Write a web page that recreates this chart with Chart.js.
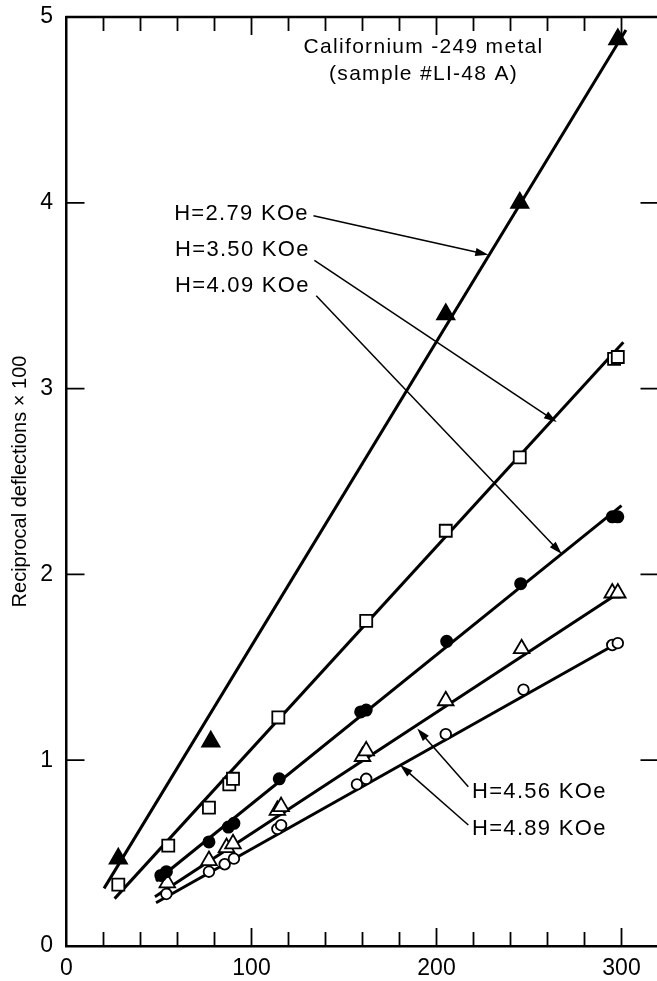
<!DOCTYPE html>
<html>
<head>
<meta charset="utf-8">
<script src="https://cdn.jsdelivr.net/npm/chart.js@4.4.1/dist/chart.umd.min.js"></script>
<style>
  html, body { margin: 0; padding: 0; background: #fff; overflow: hidden; }
  #wrap { position: relative; width: 672px; height: 981px; }
</style>
</head>
<body>
<div id="wrap"><canvas id="chart"></canvas></div>
<script>
// field strengths (one series each)
const fields = ['H=2.79 KOe', 'H=3.50 KOe', 'H=4.09 KOe', 'H=4.56 KOe', 'H=4.89 KOe'];

// temperature (x) and reciprocal deflection x100 (y)
const t279 = [28, 78, 205, 245, 298];
const r279 = [0.47, 1.10, 3.40, 4.00, 4.88];

const t350 = [28, 55, 77, 88, 90, 114.5, 162, 205, 245, 296, 298];
const r350 = [0.33, 0.54, 0.745, 0.87, 0.90, 1.23, 1.75, 2.235, 2.63, 3.16, 3.17];

const t409 = [51, 54, 77, 87.5, 90.5, 115, 159, 162, 205.5, 245.5, 295, 298];
const r409 = [0.38, 0.40, 0.56, 0.64, 0.66, 0.90, 1.26, 1.27, 1.64, 1.95, 2.31, 2.31];

const t456 = [54.5, 77, 86.5, 90, 114, 116, 160, 162, 205, 246, 295, 298];
const r456 = [0.34, 0.46, 0.53, 0.55, 0.73, 0.75, 1.02, 1.05, 1.32, 1.60, 1.90, 1.90];

const t489 = [54, 77, 85.5, 90.5, 114, 116, 157, 162, 205, 247, 295, 298];
const r489 = [0.28, 0.40, 0.44, 0.47, 0.63, 0.65, 0.87, 0.90, 1.14, 1.38, 1.62, 1.63];

// drawn straight lines, start and end
const fitT279 = [20.3, 302.4], fitR279 = [0.31, 4.93];
const fitT350 = [26, 301], fitR350 = [0.255, 3.25];
const fitT409 = [48.4, 300], fitR409 = [0.35, 2.37];
const fitT456 = [47.8, 297], fitR456 = [0.265, 1.89];
const fitT489 = [48.4, 296], fitR489 = [0.233, 1.62];

const xTickLabels = [0, 100, 200, 300];
const yTickLabels = [0, 1, 2, 3, 4, 5];

const pts = (xs, ys) => xs.map((x, i) => ({ x: x, y: ys[i] }));

const FONT = '"Liberation Sans", Arial, sans-serif';

function markers(label, xs, ys, style, fill, radius) {
  return {
    type: 'scatter', label: label, data: pts(xs, ys), order: 0,
    pointStyle: style, pointRadius: radius, pointHoverRadius: radius,
    pointBackgroundColor: fill, pointBorderColor: '#000', pointBorderWidth: 1.8
  };
}
function fitLine(xs, ys) {
  return {
    type: 'line', data: pts(xs, ys), order: 1,
    borderColor: '#000', borderWidth: 3, pointRadius: 0, fill: false
  };
}

// labels and arrows in data units
const notes = [
  { text: 'Californium -249 metal', x: 193, y: 4.84, align: 'center', size: 21 },
  { text: '(sample #LI-48 A)', x: 193, y: 4.69, align: 'center', size: 21 },
  { text: fields[0], x: 131, y: 3.94, align: 'right', size: 22 },
  { text: fields[1], x: 131.5, y: 3.745, align: 'right', size: 22 },
  { text: fields[2], x: 131.5, y: 3.55, align: 'right', size: 22 },
  { text: fields[3], x: 219.2, y: 0.83, align: 'left', size: 22 },
  { text: fields[4], x: 219.2, y: 0.63, align: 'left', size: 22 }
];
const arrows = [
  [133.5, 3.93, 228, 3.72],
  [134, 3.69, 265, 2.82],
  [135, 3.50, 267.7, 2.11],
  [217.2, 0.857, 189.6, 1.17],
  [217.2, 0.651, 180.3, 0.974]
];

const decor = {
  id: 'decor',
  afterDatasetsDraw(chart) {
    const { ctx, chartArea: a, scales: { x, y } } = chart;
    ctx.save();
    ctx.strokeStyle = '#000';
    ctx.fillStyle = '#000';
    // top and right frame lines
    ctx.lineWidth = 2.5;
    ctx.beginPath();
    ctx.moveTo(a.left - 1, a.top);
    ctx.lineTo(a.right, a.top);
    ctx.lineTo(a.right, a.bottom);
    ctx.stroke();
    // inward ticks
    ctx.lineWidth = 1.8;
    ctx.beginPath();
    x.ticks.forEach(t => {
      if (t.value <= x.min || t.value >= x.max) return;
      const px = x.getPixelForValue(t.value);
      const len = t.value % 100 === 0 ? 18 : 14;
      ctx.moveTo(px, a.bottom); ctx.lineTo(px, a.bottom - len);
      ctx.moveTo(px, a.top); ctx.lineTo(px, a.top + len);
    });
    y.ticks.forEach(t => {
      if (t.value <= y.min || t.value >= y.max) return;
      const py = y.getPixelForValue(t.value);
      ctx.moveTo(a.left, py); ctx.lineTo(a.left + 18, py);
      ctx.moveTo(a.right, py); ctx.lineTo(a.right - 18, py);
    });
    ctx.stroke();
    // arrows
    ctx.lineWidth = 1.5;
    arrows.forEach(([x0, y0, x1, y1]) => {
      const ax = x.getPixelForValue(x0), ay = y.getPixelForValue(y0);
      const bx = x.getPixelForValue(x1), by = y.getPixelForValue(y1);
      const ang = Math.atan2(by - ay, bx - ax);
      const L = 13, W = 4;
      ctx.beginPath();
      ctx.moveTo(ax, ay);
      ctx.lineTo(bx - Math.cos(ang) * L * 0.8, by - Math.sin(ang) * L * 0.8);
      ctx.stroke();
      ctx.beginPath();
      ctx.moveTo(bx, by);
      ctx.lineTo(bx - Math.cos(ang) * L - Math.sin(ang) * W, by - Math.sin(ang) * L + Math.cos(ang) * W);
      ctx.lineTo(bx - Math.cos(ang) * L + Math.sin(ang) * W, by - Math.sin(ang) * L - Math.cos(ang) * W);
      ctx.closePath();
      ctx.fill();
    });
    // text
    ctx.textBaseline = 'middle';
    ctx.letterSpacing = '1.3px';
    notes.forEach(n => {
      ctx.font = n.size + 'px ' + FONT;
      ctx.textAlign = n.align;
      ctx.fillText(n.text, x.getPixelForValue(n.x), y.getPixelForValue(n.y));
    });
    ctx.restore();
  }
};

new Chart(document.getElementById('chart'), {
  data: {
    datasets: [
      markers(fields[0], t279, r279, 'triangle', '#000', 10),
      markers(fields[1], t350, r350, 'rect', '#fff', 8.5),
      markers(fields[2], t409, r409, 'circle', '#000', 5.6),
      markers(fields[3], t456, r456, 'triangle', '#fff', 9),
      markers(fields[4], t489, r489, 'circle', '#fff', 5.3),
      fitLine(fitT279, fitR279),
      fitLine(fitT350, fitR350),
      fitLine(fitT409, fitR409),
      fitLine(fitT456, fitR456),
      fitLine(fitT489, fitR489)
    ]
  },
  options: {
    responsive: true,
    maintainAspectRatio: false,
    animation: false,
    events: [],
    layout: { padding: { top: 17, right: 13.5, left: 0, bottom: 0 } },
    plugins: { legend: { display: false }, tooltip: { enabled: false } },
    scales: {
      x: {
        type: 'linear', position: 'bottom', min: 0, max: 320,
        afterFit: s => { s.height = 35; s.paddingLeft = 0; s.paddingRight = 0; },
        grid: { display: false, drawTicks: false },
        border: { display: true, color: '#000', width: 2.5 },
        ticks: {
          stepSize: 20, autoSkip: false, maxRotation: 0, padding: 9,
          color: '#000', font: { family: FONT, size: 23 },
          callback: v => xTickLabels.includes(v) ? String(v) : ''
        }
      },
      y: {
        type: 'linear', min: 0, max: 5,
        afterFit: s => { s.width = 66.5; s.paddingTop = 0; s.paddingBottom = 0; },
        grid: { display: false, drawTicks: false },
        border: { display: true, color: '#000', width: 2.5 },
        title: {
          display: true, text: 'Reciprocal deflections \u00d7 100', color: '#000',
          font: { family: FONT, size: 20 }, padding: { top: 8, bottom: 0 }
        },
        ticks: {
          stepSize: 1, padding: 13.5, color: '#000',
          font: { family: FONT, size: 23 },
          callback: v => yTickLabels.includes(v) ? String(v) : ''
        }
      }
    }
  },
  plugins: [decor]
});
</script>
</body>
</html>
